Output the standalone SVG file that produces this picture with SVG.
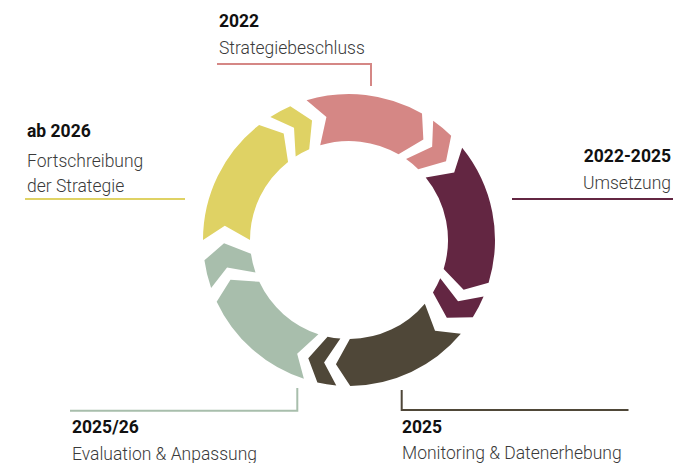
<svg xmlns="http://www.w3.org/2000/svg" width="693" height="463" viewBox="0 0 693 463">
<style>
.pink{fill:#d58785}
.purple{fill:#632642}
.brown{fill:#4f4738}
.green{fill:#a8beac}
.yellow{fill:#dfd264}
.yr{font-family:Roboto,"Liberation Sans",sans-serif;font-size:17.5px;font-weight:700;fill:#111}
.lb{font-family:Roboto,"Liberation Sans",sans-serif;font-size:17.5px;font-weight:300;fill:#3a3a3a}
.ln{fill:none;stroke-width:2}
</style>
<rect width="693" height="463" fill="#fff"/>
<g id="connectors">
<path class="ln" stroke="#d58785" d="M217,64 H371 V86"/>
<path class="ln" stroke="#632642" d="M512,199 H673"/>
<path class="ln" stroke="#4f4738" d="M401.7,390 V410 H628.5"/>
<path class="ln" stroke="#a8beac" d="M70,410.7 H297.3 V388"/>
<path class="ln" stroke="#dfd264" d="M25,199 H185"/>
</g>
<g id="stage-strategiebeschluss">
<path class="pink" d="M306.56,100.31 A146,146 0 0 1 422,113.56 L423.35,139.52 L398.5,154.26 A99,99 0 0 0 320.22,145.28 L326.43,117.05 Z"/>
<path class="pink" d="M433.16,120.70 A146,146 0 0 1 451.15,135.69 L446.01,161.17 L418.27,169.27 A99,99 0 0 0 406.07,159.10 L432.15,146.67 Z"/>
<text class="yr" x="219" y="27">2022</text>
<text class="lb" x="219" y="54">Strategiebeschluss</text>
</g>
<g id="stage-umsetzung">
<path class="purple" d="M462.14,147.73 A146,146 0 0 1 488.62,282.69 L463.63,289.84 L443.67,268.94 A99,99 0 0 0 425.72,177.43 L454.19,172.47 Z"/>
<path class="purple" d="M483.59,296.58 A146,146 0 0 1 472.82,317.37 L446.83,317.81 L432.96,292.46 A99,99 0 0 0 440.26,278.36 L458.01,301.17 Z"/>
<text class="yr" x="671" y="162" text-anchor="end">2022-2025</text>
<text class="lb" x="671" y="189" text-anchor="end">Umsetzung</text>
</g>
<g id="stage-monitoring">
<path class="brown" d="M460.84,333.85 A146,146 0 0 1 350.27,385.99 L335.93,364.32 L349.86,339.00 A99,99 0 0 0 424.84,303.64 L435.04,330.67 Z"/>
<path class="brown" d="M336.27,385.44 A146,146 0 0 1 317.40,382.54 L308.30,358.19 L327.57,336.65 A99,99 0 0 0 340.37,338.62 L324.08,362.49 Z"/>
<text class="yr" x="402" y="433">2025</text>
<text class="lb" x="402" y="459">Monitoring &amp; Datenerhebung</text>
</g>
<g id="stage-evaluation">
<path class="green" d="M303.88,378.85 A146,146 0 0 1 216.68,301.70 L230.46,279.66 L259.28,281.84 A99,99 0 0 0 318.41,334.15 L297.16,353.75 Z"/>
<path class="green" d="M211.12,288.02 A146,146 0 0 1 204.42,260.32 L224.04,243.27 L250.96,253.78 A99,99 0 0 0 255.51,272.56 L227.06,267.49 Z"/>
<text class="yr" x="72" y="433">2025/26</text>
<text class="lb" x="72" y="460">Evaluation &amp; Anpassung</text>
</g>
<g id="stage-fortschreibung">
<path class="yellow" d="M203,240 A146,146 0 0 1 259.11,124.95 L283.69,133.42 L288.05,161.99 A99,99 0 0 0 250,240 L224.80,225.85 Z"/>
<path class="yellow" d="M270.34,117.00 A146,146 0 0 1 290.32,106.31 L312.04,120.59 L309.21,149.35 A99,99 0 0 0 295.66,156.60 L294.01,127.75 Z"/>
<text class="yr" x="27" y="137">ab 2026</text>
<text class="lb" x="27" y="167">Fortschreibung</text>
<text class="lb" x="27" y="192">der Strategie</text>
</g>
</svg>
